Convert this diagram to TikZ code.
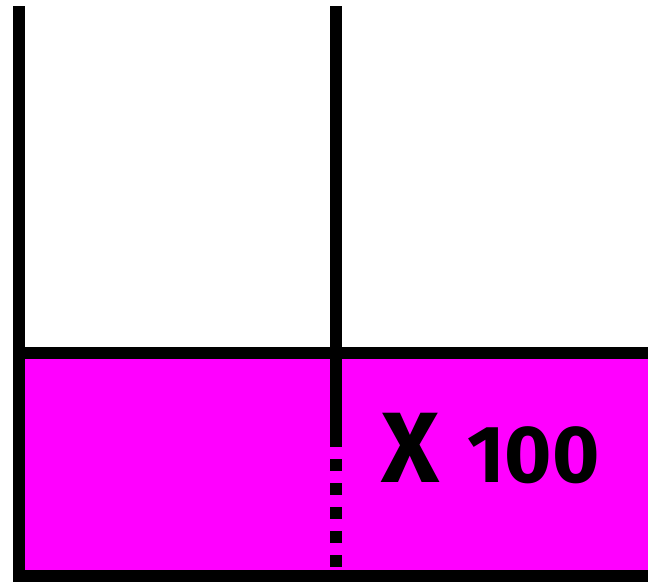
\documentclass[tikz,border=0pt]{standalone}
\usepackage{fontspec}
\setmainfont{Fira Sans}
\usetikzlibrary{positioning}
\definecolor{vivid}{RGB}{255,0,255}
\tikzset{
  wall/.style={line width=12pt,black},
  tally/.style={inner sep=0pt,font=\bfseries},
}
\begin{document}
\begin{tikzpicture}[x=1pt,y=-1pt]
  \useasboundingbox (0,0) rectangle (648,582);
  % filled bottom band
  \fill[vivid] (19,353) rectangle (648,576);
  \draw[wall] (19,6) -- (19,582);
  \draw[wall] (13,353) -- (648,353);
  \draw[wall] (13,576) -- (648,576);
  % divider, solid then dotted
  \draw[wall] (336,6) -- (336,447);
  \draw[wall,dash pattern=on 12pt off 12pt] (336,459) -- (336,570);
  \node[tally,anchor=base west,font=\bfseries\fontsize{100}{100}\selectfont] (times) at (381,482) {X};
  \node[tally,anchor=base west,font=\bfseries\fontsize{81}{81}\selectfont] (count) at (467,482) {100};
\end{tikzpicture}
\end{document}
